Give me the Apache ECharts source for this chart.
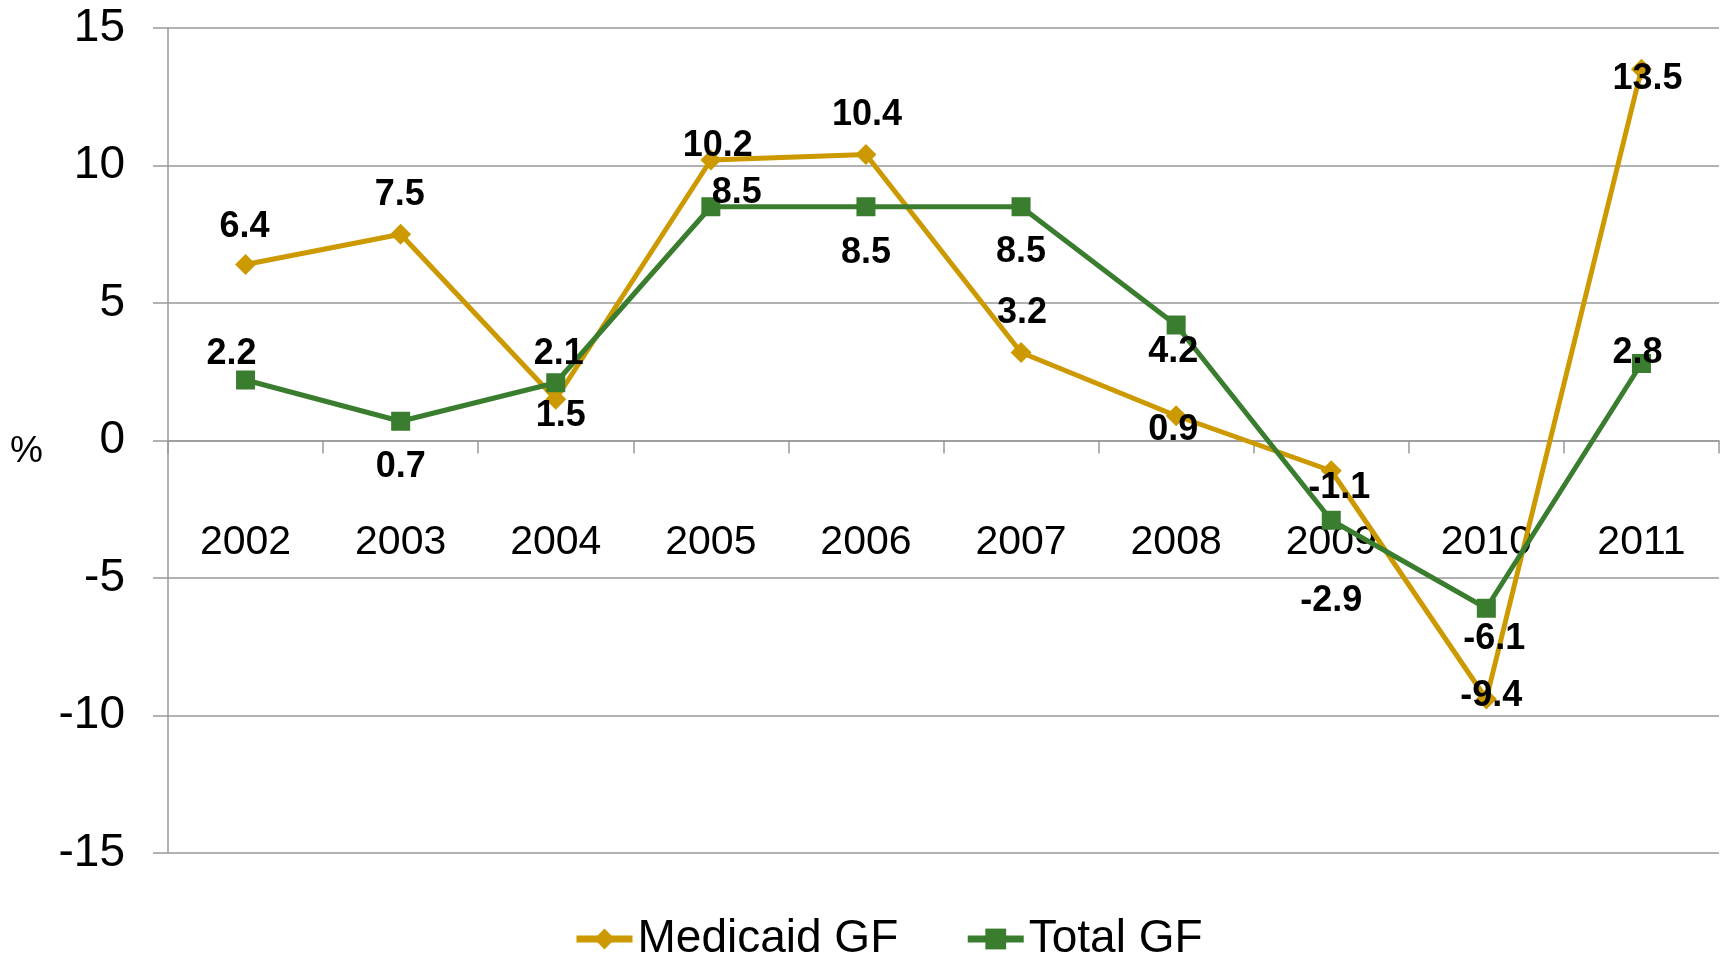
<!DOCTYPE html>
<html>
<head>
<meta charset="utf-8">
<script src="https://cdn.jsdelivr.net/npm/echarts@6/dist/echarts.min.js"></script>
<style>
html,body{margin:0;padding:0;background:#fff;}
#chart{width:1721px;height:958px;}
</style>
</head>
<body>
<div id="chart"></div>
<script>
// ---- data ----
const years = ['2002','2003','2004','2005','2006','2007','2008','2009','2010','2011'];
const medicaidGF = [6.4, 7.5, 1.5, 10.2, 10.4, 3.2, 0.9, -1.1, -9.4, 13.5];
const totalGF = [2.2, 0.7, 2.1, 8.5, 8.5, 8.5, 4.2, -2.9, -6.1, 2.8];
const seriesNames = ['Medicaid GF', 'Total GF'];
const yMin = -15, yMax = 15, yStep = 5;

// ---- label placement (styling) ----
const medicaidLabelOffsets = [[-1,-37],[-1,-39],[5,17],[7,-14],[1,-39],[1,-39],[-3,14],[8,17],[5,-3],[6,10]];
const totalLabelOffsets = [[-14,-26],[0,46],[3,-29],[26,-14],[0,46],[0,45],[-3,27],[0,81],[8,31],[-4,-10]];

const GOLD = '#CC9900';
const GREEN = '#3A7D2F';
const FONT = "'Liberation Sans', Arial, sans-serif";

function build(values, offsets) {
  return values.map((v, i) => ({ value: v, label: { offset: offsets[i] } }));
}

const labelStyle = {
  show: true,
  position: 'inside',
  color: '#000',
  fontFamily: FONT,
  fontWeight: 'bold',
  fontSize: 36,
  formatter: p => Number(p.value).toFixed(1)
};

const chart = echarts.init(document.getElementById('chart'), null, { renderer: 'canvas' });
chart.setOption({
  animation: false,
  backgroundColor: '#fff',
  grid: { left: 168, right: 2, top: 28, bottom: 105, containLabel: false, outerBoundsMode: 'none' },
  legend: {
    data: seriesNames,
    left: 568,
    top: 911,
    itemWidth: 56,
    itemHeight: 26,
    itemGap: 66,
    lineStyle: { width: 7 },
    textStyle: { fontFamily: FONT, fontSize: 46, color: '#000' }
  },
  xAxis: {
    type: 'category',
    data: years,
    boundaryGap: true,
    axisLine: { onZero: true, lineStyle: { color: '#999', width: 1.5 } },
    axisTick: { show: true, length: 13, interval: 0, lineStyle: { color: '#999', width: 1.5 } },
    axisLabel: { margin: -331, fontFamily: FONT, fontSize: 41, color: '#000', interval: 0 },
    splitLine: { show: false }
  },
  yAxis: {
    type: 'value',
    min: yMin,
    max: yMax,
    interval: yStep,
    name: '%',
    nameLocation: 'middle',
    nameRotate: 0,
    nameGap: 125,
    nameTextStyle: { fontFamily: FONT, fontSize: 37, color: '#000', verticalAlign: 'top', lineHeight: 22 },
    axisLine: { show: true, lineStyle: { color: '#999', width: 1.5 } },
    axisTick: { show: true, length: 15, lineStyle: { color: '#999', width: 1.5 } },
    axisLabel: { margin: 43, fontFamily: FONT, fontSize: 46, color: '#000' },
    splitLine: { show: true, lineStyle: { color: '#999', width: 1.5 } }
  },
  series: [
    {
      name: seriesNames[0],
      type: 'line',
      data: build(medicaidGF, medicaidLabelOffsets),
      symbol: 'diamond',
      symbolSize: 21,
      lineStyle: { color: GOLD, width: 5 },
      itemStyle: { color: GOLD },
      label: labelStyle,
      z: 2
    },
    {
      name: seriesNames[1],
      type: 'line',
      data: build(totalGF, totalLabelOffsets),
      symbol: 'rect',
      symbolSize: 19,
      lineStyle: { color: GREEN, width: 5 },
      itemStyle: { color: GREEN },
      label: labelStyle,
      z: 3
    }
  ]
});
</script>
</body>
</html>
